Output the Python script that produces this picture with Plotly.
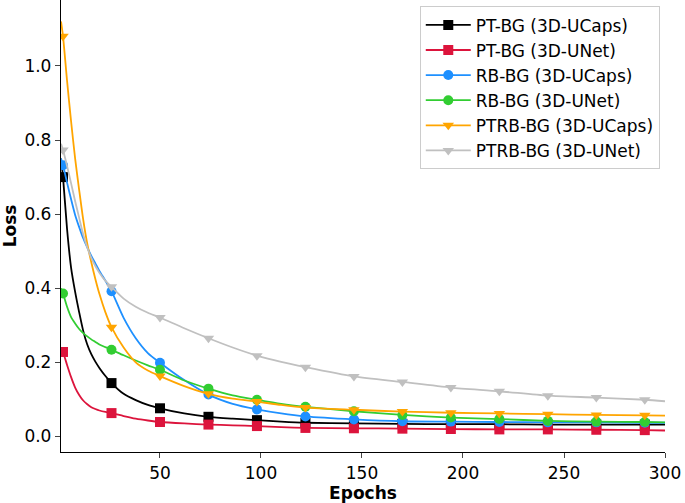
import plotly.graph_objects as go

# ---- data ----
epochs = [1, 2, 4, 6, 8, 10, 12, 14, 16, 18, 20, 23, 26, 32, 38, 44, 50, 62, 74, 86,
          98, 110, 122, 146, 170, 194, 218, 242, 266, 290, 300]
marker_epochs = [2, 26, 50, 74, 98, 122, 146, 170, 194, 218, 242, 266, 290]

pt_bg_ucaps = [0.75, 0.70, 0.56, 0.455, 0.39, 0.335, 0.285, 0.248, 0.222, 0.202, 0.185, 0.163,
               0.144, 0.115, 0.098, 0.085, 0.076, 0.062, 0.053, 0.048, 0.044, 0.040, 0.037,
               0.035, 0.034, 0.033, 0.033, 0.032, 0.032, 0.032, 0.032]
pt_bg_unet = [0.24, 0.228, 0.193, 0.16, 0.132, 0.112, 0.097, 0.087, 0.079, 0.074, 0.070, 0.066,
              0.063, 0.055, 0.048, 0.043, 0.039, 0.035, 0.032, 0.030, 0.028, 0.025, 0.023,
              0.022, 0.021, 0.020, 0.019, 0.019, 0.018, 0.017, 0.016]
rb_bg_ucaps = [0.75, 0.732, 0.685, 0.64, 0.598, 0.565, 0.535, 0.51, 0.487, 0.467, 0.447, 0.42,
               0.392, 0.32, 0.265, 0.225, 0.199, 0.152, 0.113, 0.088, 0.073, 0.062, 0.054,
               0.046, 0.041, 0.040, 0.039, 0.038, 0.038, 0.037, 0.037]
rb_bg_unet = [0.40, 0.386, 0.35, 0.322, 0.305, 0.29, 0.279, 0.27, 0.262, 0.255, 0.248, 0.241,
              0.234, 0.219, 0.205, 0.192, 0.180, 0.151, 0.129, 0.111, 0.099, 0.088, 0.080,
              0.068, 0.058, 0.051, 0.047, 0.042, 0.040, 0.039, 0.038]
ptrb_bg_ucaps = [1.12, 1.08, 0.96, 0.85, 0.75, 0.665, 0.585, 0.52, 0.47, 0.425, 0.385, 0.335,
                 0.295, 0.24, 0.20, 0.178, 0.163, 0.136, 0.115, 0.102, 0.094, 0.085, 0.078,
                 0.072, 0.067, 0.064, 0.062, 0.060, 0.058, 0.057, 0.056]
ptrb_bg_unet = [0.79, 0.773, 0.73, 0.683, 0.635, 0.59, 0.545, 0.51, 0.482, 0.46, 0.442, 0.42,
                0.404, 0.372, 0.35, 0.334, 0.321, 0.292, 0.265, 0.24, 0.218, 0.201, 0.187,
                0.162, 0.147, 0.132, 0.122, 0.11, 0.105, 0.099, 0.095]

series_names = ["PT-BG (3D-UCaps)", "PT-BG (3D-UNet)", "RB-BG (3D-UCaps)",
                "RB-BG (3D-UNet)", "PTRB-BG (3D-UCaps)", "PTRB-BG (3D-UNet)"]
series_values = [pt_bg_ucaps, pt_bg_unet, rb_bg_ucaps, rb_bg_unet, ptrb_bg_ucaps, ptrb_bg_unet]
colors = ["#000000", "#DC143C", "#1E90FF", "#32CD32", "#FFA500", "#C0C0C0"]
symbols = ["square", "square", "circle", "circle", "triangle-down", "triangle-down"]

y_ticks = [0.0, 0.2, 0.4, 0.6, 0.8, 1.0]
x_ticks = [50, 100, 150, 200, 250, 300]

FONT = "DejaVu Sans"

fig = go.Figure()
for name, vals, color, sym in zip(series_names, series_values, colors, symbols):
    fig.add_trace(go.Scatter(
        x=epochs, y=vals, mode="lines",
        line=dict(color=color, width=1.8, shape="spline", smoothing=0.7),
        showlegend=False, legendgroup=name, hoverinfo="skip"))
    mx = [e for e in epochs if e in marker_epochs]
    my = [v for e, v in zip(epochs, vals) if e in marker_epochs]
    fig.add_trace(go.Scatter(
        x=mx, y=my, mode="markers",
        marker=dict(symbol=sym, color=color, size=10, line=dict(width=0)),
        showlegend=False, legendgroup=name, name=name))
    fig.add_trace(go.Scatter(
        x=[None], y=[None], mode="lines+markers", name=name, legendgroup=name,
        line=dict(color=color, width=1.8),
        marker=dict(symbol=sym, color=color, size=10, line=dict(width=0))))

fig.update_layout(
    width=685, height=503,
    margin=dict(l=61, r=20, t=0, b=51),
    paper_bgcolor="white", plot_bgcolor="white",
    font=dict(family=FONT, size=17, color="black"),
    showlegend=True,
    legend=dict(
        x=0.594, y=0.986, xanchor="left", yanchor="top",
        bgcolor="white", bordercolor="#cccccc", borderwidth=1,
        font=dict(family=FONT, size=17, color="black"),
        tracegroupgap=0, itemwidth=45,
    ),
)
fig.update_xaxes(
    range=[1, 300], tickvals=x_ticks, ticks="outside", ticklen=5, tickwidth=1.3,
    showline=True, linecolor="black", linewidth=1.3, mirror=False,
    showgrid=False, zeroline=False,
    title=dict(text="<b>Epochs</b>", font=dict(family=FONT, size=17), standoff=2),
)
fig.update_yaxes(
    range=[-0.042, 1.178], tickvals=y_ticks, tickformat=".1f",
    ticks="outside", ticklen=5, tickwidth=1.3,
    showline=True, linecolor="black", linewidth=1.3, mirror=False,
    showgrid=False, zeroline=False,
    title=dict(text="<b>Loss</b>", font=dict(family=FONT, size=17), standoff=8),
)

fig.write_html("out.html", config={"displayModeBar": False},
               post_script="document.body.style.margin='0';")
